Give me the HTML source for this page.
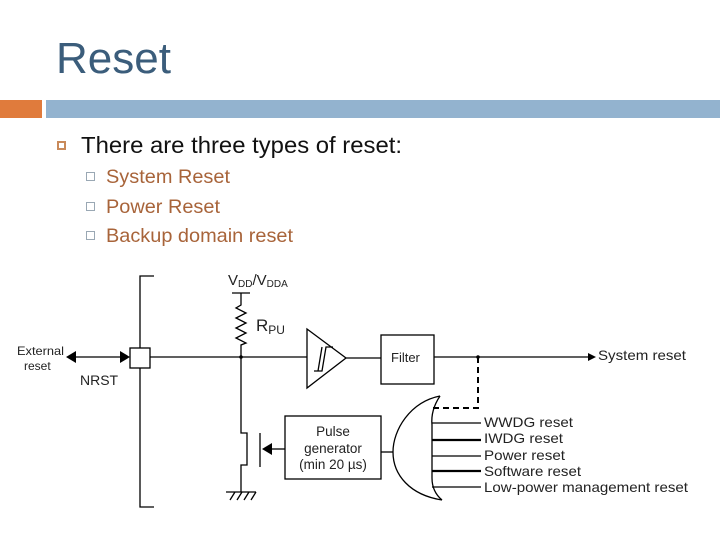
<!DOCTYPE html>
<html><head><meta charset="utf-8"><style>
body{margin:0;width:720px;height:540px;background:#fff;overflow:hidden;position:relative;font-family:"Liberation Sans",sans-serif}
</style></head><body>
<svg width="720" height="540" viewBox="0 0 720 540" style="position:absolute;left:0;top:0" font-family="Liberation Sans, sans-serif">
<text x="56" y="73" font-size="44" fill="#3b5d7b">Reset</text>
<rect x="0" y="100" width="42" height="18" fill="#e07b3c"/>
<rect x="46" y="100" width="674" height="18" fill="#93b3cf"/>
<rect x="58" y="142" width="7" height="7" fill="none" stroke="#c98a5a" stroke-width="2"/>
<text x="81" y="153" font-size="23" fill="#111" textLength="321" lengthAdjust="spacingAndGlyphs">There are three types of reset:</text>
<g fill="none" stroke="#9aa8b4" stroke-width="1"><rect x="86.5" y="172.5" width="8" height="8"/><rect x="86.5" y="202.5" width="8" height="8"/><rect x="86.5" y="231.5" width="8" height="8"/></g>
<g font-size="19.5" fill="#a8643a"><text x="106" y="183" textLength="124" lengthAdjust="spacingAndGlyphs">System Reset</text><text x="106" y="213" textLength="114" lengthAdjust="spacingAndGlyphs">Power Reset</text><text x="106" y="242" textLength="187" lengthAdjust="spacingAndGlyphs">Backup domain reset</text></g>

<g stroke="#000" stroke-width="1.3" fill="none">
<path d="M154 276H140V507H154"/>
<rect x="130" y="348" width="20" height="20" fill="#fff"/>
<path d="M75 357H124"/>
<path d="M150 357H307"/>
<path d="M232 293H250M241 293V305l-5 3 10 5-10 5 10 5-10 5 10 5-10 5 10 5-5 2V357"/>
<path d="M241 357V433H247V465H241V492"/>
<path d="M226 492H256M230 500l5-8M237 500l5-8M244 500l5-8M251 500l5-8"/>
<path d="M260 433V467"/>
<path d="M270 449H285"/>
<rect x="285" y="416" width="96" height="63"/>
<path d="M307 329L346 358L307 388Z"/>
<path d="M314 371H322L326 347H333M318 371L322 347"/>
<path d="M346 358H381"/>
<rect x="381" y="335" width="53" height="49"/>
<path d="M434 357H588"/>
<path d="M478 357V408H433" stroke-dasharray="6,4" stroke-width="2"/>
<path d="M381 452H393"/>
<path d="M440 396C410 402 393 430 393 452C393 475 410 495 442 500"/>
<path d="M440 396C434 405 431 415 432 425V478C432 488 436 495 442 500"/>
<path d="M432 423H481M432 456H481M432 487H481"/>
<path d="M432 440H481M432 471H481" stroke-width="2.2"/>
</g>
<g fill="#000">
<path d="M66 357L76 351V363Z"/>
<path d="M130 357L120 351V363Z"/>
<path d="M262 449L272 443V455Z"/>
<path d="M596 357L588 353V361Z"/>
<circle cx="241" cy="357" r="1.8"/>
<circle cx="478" cy="357" r="1.8"/>
</g>
<g font-size="12" fill="#222">
<text x="17" y="355" textLength="47" lengthAdjust="spacingAndGlyphs">External</text><text x="24" y="370">reset</text>
<text x="80" y="385" font-size="14">NRST</text>
<text x="228" y="285" font-size="15">V<tspan font-size="10" dy="2">DD</tspan><tspan dy="-2" font-size="15">/V</tspan><tspan font-size="10" dy="2">DDA</tspan></text>
<text x="256" y="331" font-size="17">R<tspan font-size="12" dy="3">PU</tspan></text>
<text x="391" y="362" font-size="13">Filter</text>
<text x="333" y="436" font-size="13.5" text-anchor="middle">Pulse</text>
<text x="333" y="453" font-size="13.5" text-anchor="middle">generator</text>
<text x="333" y="469" font-size="13.5" text-anchor="middle">(min 20 µs)</text>
<text x="598" y="360" font-size="14" textLength="88" lengthAdjust="spacingAndGlyphs">System reset</text>
<g font-size="14"><text x="484" y="427" textLength="89" lengthAdjust="spacingAndGlyphs">WWDG reset</text><text x="484" y="443" textLength="79" lengthAdjust="spacingAndGlyphs">IWDG reset</text><text x="484" y="460" textLength="81" lengthAdjust="spacingAndGlyphs">Power reset</text><text x="484" y="476" textLength="97" lengthAdjust="spacingAndGlyphs">Software reset</text><text x="484" y="492" textLength="204" lengthAdjust="spacingAndGlyphs">Low-power management reset</text></g>
</g>
</svg>
</body></html>
